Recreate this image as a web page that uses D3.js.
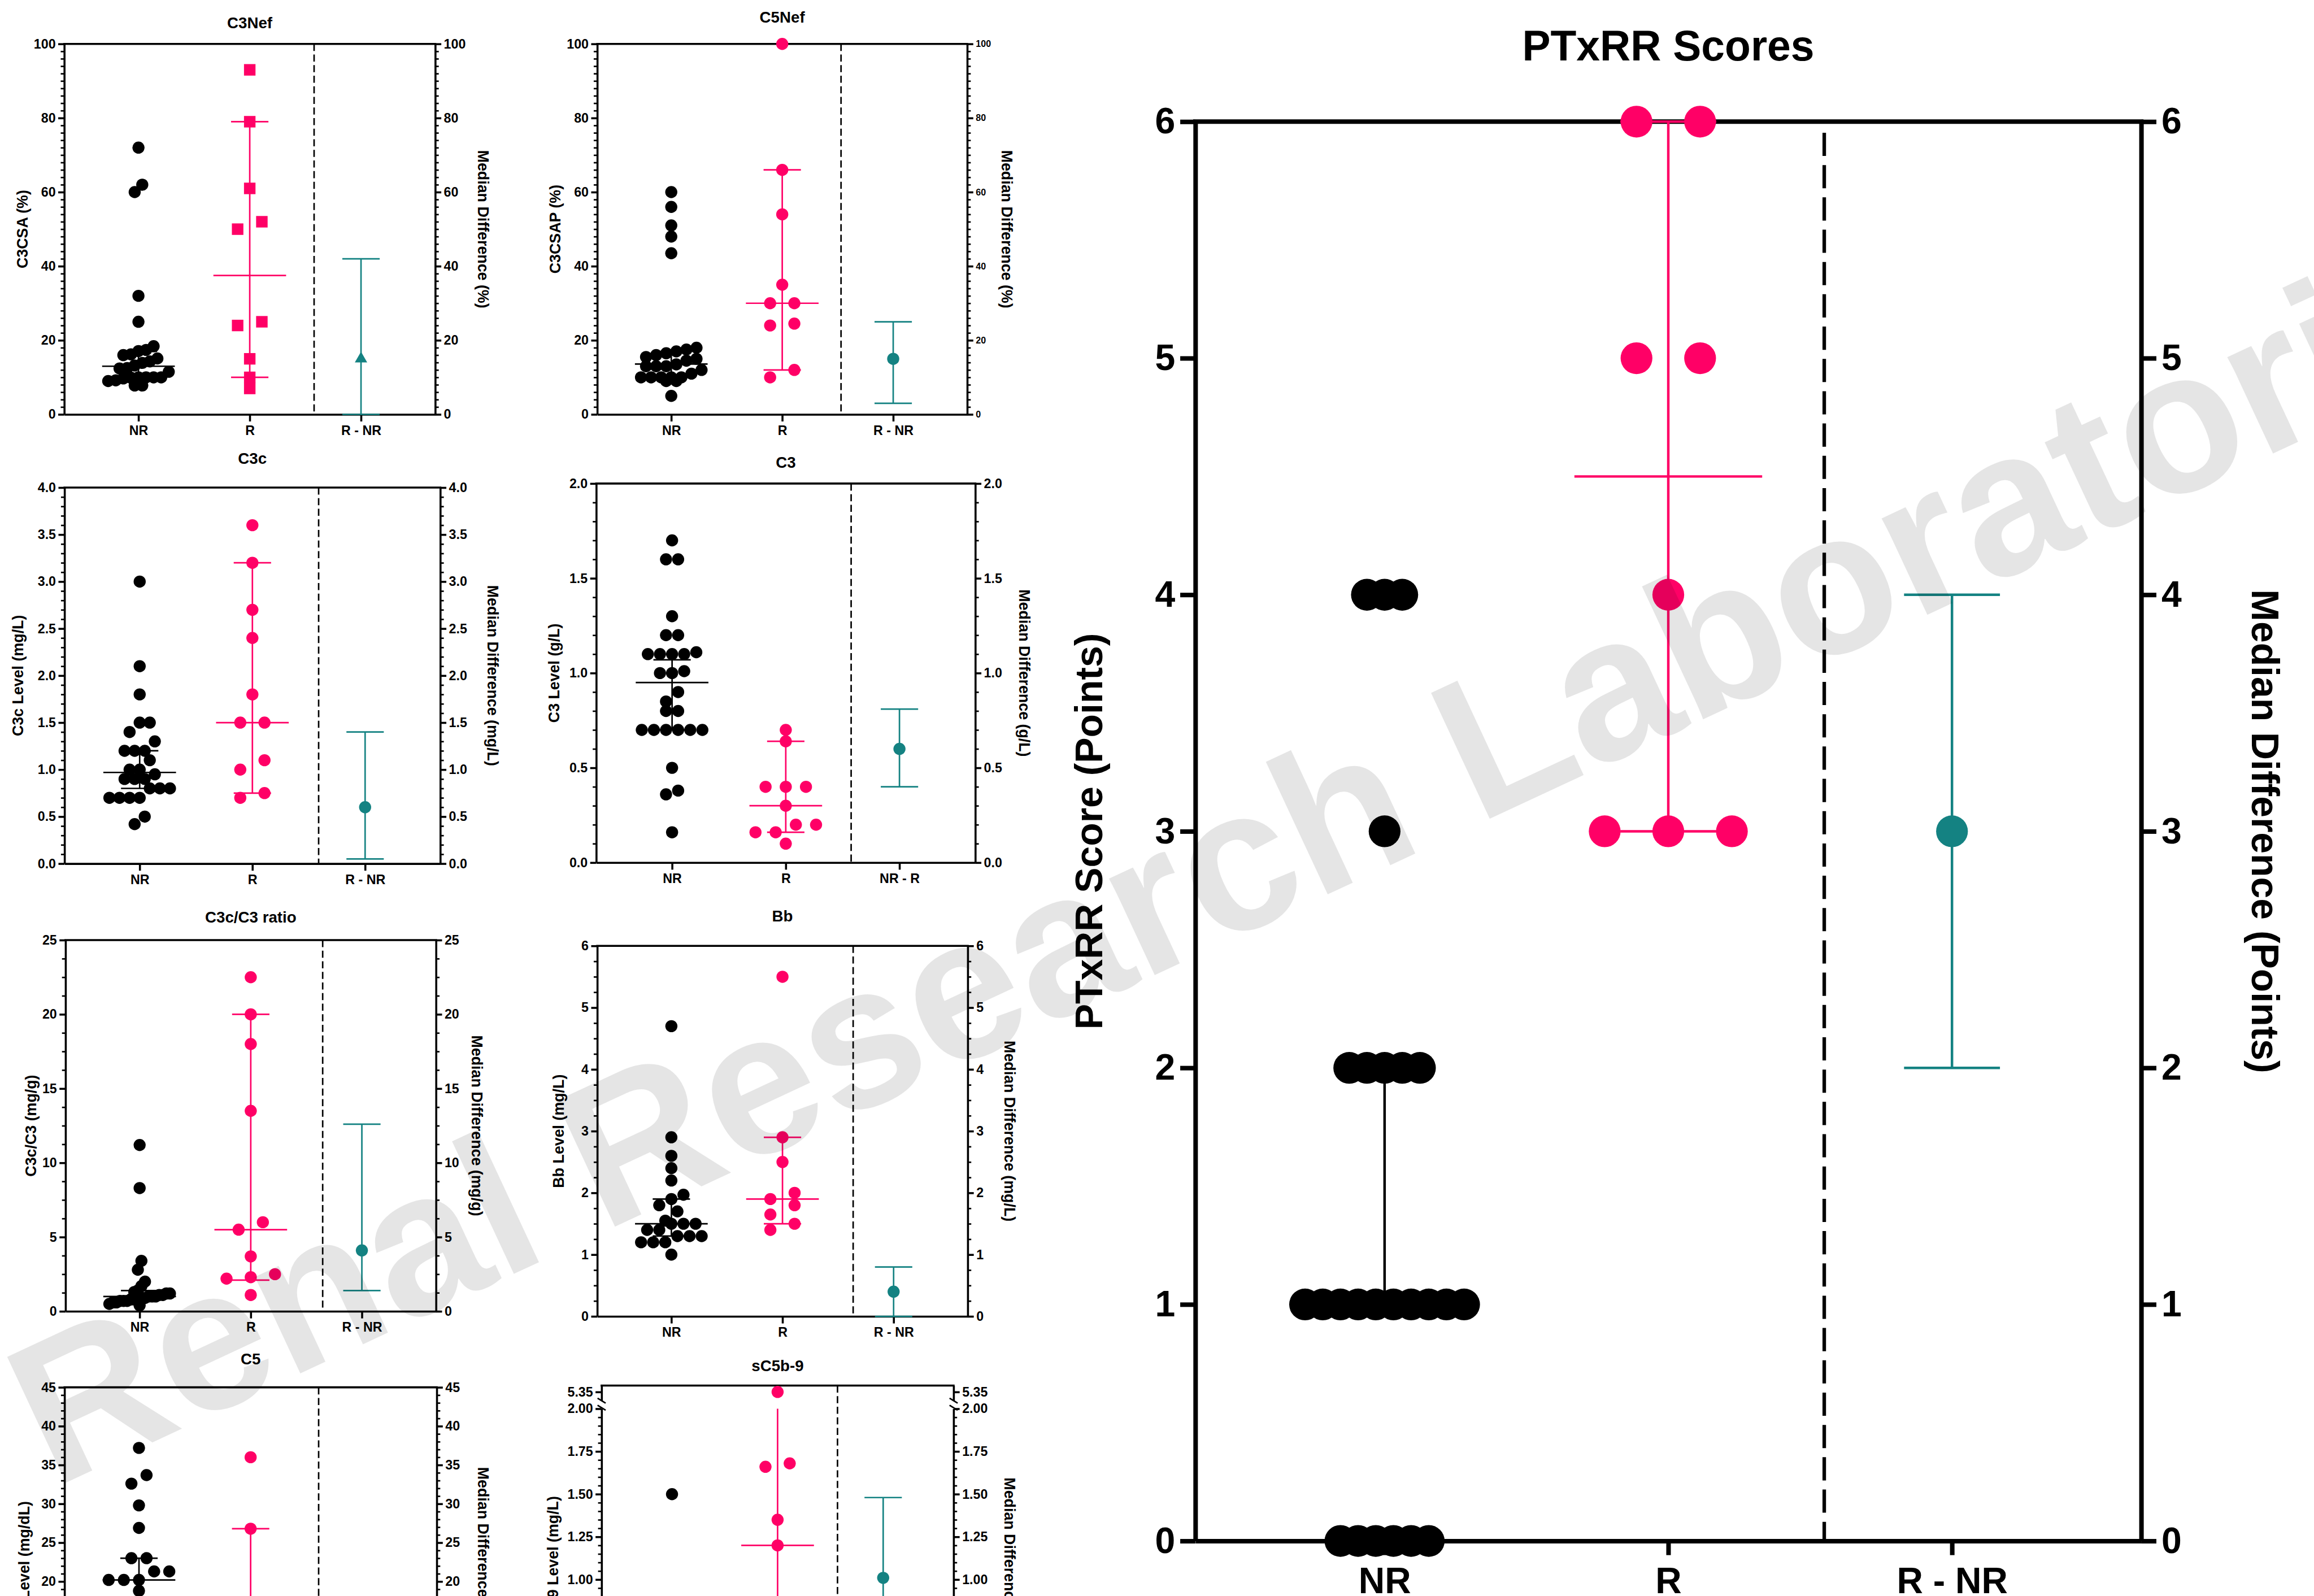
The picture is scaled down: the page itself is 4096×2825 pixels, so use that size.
<!DOCTYPE html>
<html><head><meta charset="utf-8">
<script src="https://cdn.jsdelivr.net/npm/d3@7"></script>
<style>html,body{margin:0;padding:0;background:#fff;overflow:hidden}svg{display:block}</style>
</head><body>
<svg id="chart"></svg>
<script>
// ---------------- DATA ----------------
const CATS_A = ["NR", "R", "R - NR"];
const CATS_B = ["NR", "R", "NR - R"];

// C3Nef
const c3nefNR = [72, 62, 60, 32, 25, 18.4, 17.4, 17.1, 16.2, 16.0, 15.1, 14.3, 13.9, 13.2, 12.5, 12.4, 11.5, 10, 10, 10, 10, 9.9, 9.7, 9.2, 9.0, 7.8, 7.8];
const c3nefR = [93, 79, 61, 52, 50, 25, 24, 15, 10, 7];
const c3nefNRStat = [13, 10, 17];      // median, lower, upper
const c3nefRStat = [37.5, 10, 79];
const c3nefDiff = [15, 0, 42];         // estimate, lower, upper
const c3nefTicks = [0, 20, 40, 60, 80, 100];

// C5Nef
const c5nefNR = [60, 56, 51, 48, 43.5, 18, 17.5, 17, 16.5, 16, 15.5, 15, 14.5, 13.5, 13, 13, 13, 12, 11, 10, 10, 10, 10, 10, 9, 9, 5];
const c5nefR = [100, 66, 54, 35, 30, 30, 24.5, 24, 12, 10];
const c5nefNRStat = [13.6, 10, 17];
const c5nefRStat = [30, 12, 66];
const c5nefDiff = [15, 3, 25];
const c5nefTicks = [0, 20, 40, 60, 80, 100];

// C3c
const c3cNR = [3.0, 2.1, 1.8, 1.5, 1.5, 1.4, 1.3, 1.2, 1.2, 1.2, 1.1, 1.0, 1.0, 0.95, 0.9, 0.9, 0.9, 0.8, 0.8, 0.8, 0.7, 0.7, 0.7, 0.7, 0.5, 0.42];
const c3cR = [3.6, 3.2, 2.7, 2.4, 1.8, 1.5, 1.5, 1.1, 1.0, 0.75, 0.7];
const c3cNRStat = [0.97, 0.8, 1.2];
const c3cRStat = [1.5, 0.75, 3.2];
const c3cDiff = [0.6, 0.05, 1.4];
const c3cTicks = [0, 0.5, 1.0, 1.5, 2.0, 2.5, 3.0, 3.5, 4.0];

// C3
const c3NR = [1.7, 1.6, 1.6, 1.3, 1.2, 1.2, 1.1, 1.1, 1.1, 1.1, 1.11, 1.01, 1.0, 1.0, 0.9, 0.85, 0.8, 0.8, 0.7, 0.7, 0.7, 0.7, 0.7, 0.7, 0.5, 0.38, 0.36, 0.16];
const c3R = [0.7, 0.64, 0.4, 0.4, 0.4, 0.3, 0.2, 0.2, 0.16, 0.16, 0.1];
const c3NRStat = [0.95, 0.7, 1.07];
const c3RStat = [0.3, 0.16, 0.64];
const c3Diff = [0.6, 0.4, 0.81];
const c3Ticks = [0, 0.5, 1.0, 1.5, 2.0];

// C3c/C3 ratio
const ratioNR = [11.2, 8.3, 3.4, 2.8, 2.0, 1.7, 1.4, 1.3, 1.2, 1.2, 1.1, 1.1, 1.0, 1.0, 1.0, 0.9, 0.9, 0.8, 0.8, 0.8, 0.7, 0.7, 0.7, 0.6, 0.6, 0.5, 0.4];
const ratioR = [22.5, 20, 18, 13.5, 6.0, 5.5, 3.7, 2.5, 2.3, 2.2, 1.1];
const ratioNRStat = [1.0, 0.7, 1.4];
const ratioRStat = [5.5, 2.1, 20];
const ratioDiff = [4.1, 1.4, 12.6];
const ratioTicks = [0, 5, 10, 15, 20, 25];

// Bb
const bbNR = [4.7, 2.9, 2.6, 2.4, 2.2, 1.97, 1.9, 1.8, 1.7, 1.55, 1.5, 1.5, 1.5, 1.4, 1.4, 1.3, 1.3, 1.3, 1.2, 1.2, 1.2, 1.0];
const bbR = [5.5, 2.9, 2.5, 2.0, 1.9, 1.8, 1.65, 1.5, 1.4];
const bbNRStat = [1.5, 1.3, 1.9];
const bbRStat = [1.9, 1.5, 2.9];
const bbDiff = [0.4, 0, 0.8];
const bbTicks = [0, 1, 2, 3, 4, 5, 6];

// C5 (lower part cut off in the reference)
const c5NR = [37.2, 33.7, 32.6, 29.8, 26.9, 23, 23, 21.3, 21.3, 20.2, 20.2, 20.2, 18.8];
const c5R = [36.0, 26.8];
const c5NRStat = [20.2, 15, 23];
const c5RStat = [14, 10, 26.8];
const c5Ticks = [0, 5, 10, 15, 20, 25, 30, 35, 40, 45];

// sC5b-9 (broken axis, lower part cut off)
const sc5NR = [1.50];
const sc5R = [5.35, 1.68, 1.66, 1.35, 1.20];
const sc5RStat = [1.20, 0.7, 5.35];
const sc5Diff = [1.01, 0.6, 1.48];
const sc5TicksLow = [0, 0.25, 0.50, 0.75, 1.00, 1.25, 1.50, 1.75, 2.00];
const sc5TicksHigh = [5.35];

// PTxRR Scores
const ptNR = [4, 4, 4, 3, 2, 2, 2, 2, 2, 1, 1, 1, 1, 1, 1, 1, 1, 1, 1, 0, 0, 0, 0, 0, 0];
const ptR = [6, 6, 5, 5, 4, 3, 3, 3];
const ptNRStat = [1, 1, 2];
const ptRStat = [4.5, 3, 6];
const ptDiff = [3, 2, 4];
const ptTicks = [0, 1, 2, 3, 4, 5, 6];

// ---------------- STYLE ----------------
const PINK = "#ff0066", TEAL = "#148282", BLACK = "#000000";
const FONT = "'Liberation Sans', Arial, Helvetica, sans-serif";
const CANVAS_H = 3162;
const SMALL = {axisW:4, tickMaj:12, tickMin:7, minorW:3, tickPad:5, fTick:26, fCat:26, fLab:30, fTitle:31, ptR:12, lineW:3, medHalf:72, capHalf:37, dashW:3, dash:"14 7", catTick:14, catPad:8, dashTop:0};
const BIG = {axisW:9, tickMaj:30, tickMin:0, minorW:0, tickPad:10, fTick:72, fCat:72, fLab:76, fTitle:84, ptR:31.5, lineW:5, medHalf:186, capHalf:95, dashW:7, dash:"46 18", catTick:28, catPad:24, dashTop:22};

const svg = d3.select("#chart").attr("width", 4096).attr("height", 2825)
  .attr("viewBox", "0 0 4584 3162").attr("font-family", FONT).attr("font-weight", "bold");
svg.append("rect").attr("width", 4584).attr("height", 3162).attr("fill", "#fff");

const f0 = d3.format("d"), f1 = d3.format(".1f"), f2 = d3.format(".2f");

const panels = [
  {title:"C3Nef", yLab:"C3CSA (%)", rLab:"Median Difference (%)", cats:CATS_A, L:127, R:862, T:87, B:821, dash:622, titleY:56, yLabX:45, rLabX:957,
   domain:[0,100], ticks:c3nefTicks, minor:2, fmt:f0, nr:c3nefNR, r:c3nefR, nrStat:c3nefNRStat, rStat:c3nefRStat, diff:c3nefDiff, rShape:"square", diffShape:"triangle"},
  {title:"C5Nef", yLab:"C3CSAP (%)", rLab:"Median Difference (%)", cats:CATS_A, L:1183, R:1916, T:87, B:821, dash:1666, titleY:45, yLabX:1100, rLabX:1994,
   domain:[0,100], ticks:c5nefTicks, minor:2, fmt:f0, rTickFont:18, nr:c5nefNR, r:c5nefR, nrStat:c5nefNRStat, rStat:c5nefRStat, diff:c5nefDiff},
  {title:"C3c", yLab:"C3c Level (mg/L)", rLab:"Median Difference (mg/L)", cats:CATS_A, L:127.5, R:872, T:966, B:1711, dash:631, titleY:919, yLabX:35, rLabX:976,
   domain:[0,4], ticks:c3cTicks, minor:0.1, fmt:f1, nr:c3cNR, r:c3cR, nrStat:c3cNRStat, rStat:c3cRStat, diff:c3cDiff},
  {title:"C3", yLab:"C3 Level (g/L)", rLab:"Median Difference (g/L)", cats:CATS_B, L:1181, R:1932, T:958, B:1709, dash:1686, titleY:927, yLabX:1098, rLabX:2029,
   domain:[0,2], ticks:c3Ticks, minor:0.1, fmt:f1, nr:c3NR, r:c3R, nrStat:c3NRStat, rStat:c3RStat, diff:c3Diff},
  {title:"C3c/C3 ratio", yLab:"C3c/C3 (mg/g)", rLab:"Median Difference (mg/g)", cats:CATS_A, L:129.5, R:863.5, T:1862.5, B:2598, dash:639, titleY:1828, yLabX:61, rLabX:944,
   domain:[0,25], ticks:ratioTicks, minor:1.25, fmt:f0, nr:ratioNR, r:ratioR, nrStat:ratioNRStat, rStat:ratioRStat, diff:ratioDiff},
  {title:"Bb", yLab:"Bb Level (mg/L)", rLab:"Median Difference (mg/L)", cats:CATS_A, L:1183, R:1917, T:1874, B:2608, dash:1690, titleY:1826, yLabX:1107, rLabX:2000,
   domain:[0,6], ticks:bbTicks, minor:0.25, fmt:f0, nr:bbNR, r:bbR, nrStat:bbNRStat, rStat:bbRStat, diff:bbDiff},
  {title:"C5", yLab:"C5 Level (mg/dL)", rLab:"Median Difference (mg/dL)", cats:CATS_A, L:127.5, R:865, T:2748.6, B:3441, dash:631, titleY:2703, yLabX:48, rLabX:957,
   domain:[0,45], ticks:c5Ticks, minor:1, fmt:f0, nr:c5NR, r:c5R, nrStat:c5NRStat, rStat:c5RStat, diff:null},
  {title:"sC5b-9", yLab:"sC5b-9 Level (mg/L)", rLab:"Median Difference (mg/L)", cats:CATS_A, L:1191.6, R:1889, T:2745, B:3468, dash:1659, titleY:2716, yLabX:1095, rLabX:2000,
   segments:[{domain:[0,2], range:[3467.8,2791], ticks:sc5TicksLow, minor:0.05}, {domain:[5.30,5.38], range:[2779,2745], ticks:sc5TicksHigh, minor:0}],
   breakY:[2777, 2791], clipHi:2.0, fmt:f2, nr:sc5NR, r:sc5R, nrStat:null, rStat:sc5RStat, diff:sc5Diff}
];
const bigPanel = {title:"PTxRR Scores", yLab:"PTxRR Score (Points)", rLab:"Median Difference (Points)", cats:CATS_A, L:2368, R:4242, T:241, B:3053, dash:3614, titleY:120, yLabX:2157, rLabX:4488,
   domain:[0,6], ticks:ptTicks, minor:0, fmt:f0, nr:ptNR, r:ptR, nrStat:ptNRStat, rStat:ptRStat, diff:ptDiff};

// ---------------- HELPERS ----------------
function styleAxis(a, sw, fs) {
  a.attr("font-family", FONT).attr("font-size", fs).attr("font-weight", "bold");
  a.select(".domain").attr("stroke", BLACK).attr("stroke-width", sw);
  a.selectAll(".tick line").attr("stroke", BLACK).attr("stroke-width", sw);
  a.selectAll(".tick text").attr("fill", BLACK);
}

// Prism-like scatter layout: close values share a row, rows are centred
function swarm(vals, y, D) {
  const pts = vals.map((v, i) => ({v, i, py: y(v)})).sort((a, b) => (a.py - b.py) || (a.i - b.i));
  const rows = []; let cur = null;
  pts.forEach(p => {
    if (cur && p.py - cur.y0 < 0.9 * D) cur.items.push(p);
    else { cur = {y0: p.py, items: [p]}; rows.push(cur); }
  });
  const maxN = d3.max(rows, r => r.items.length);
  const sp = maxN > 1 ? Math.min(2 * D, 5 * D / (maxN - 1)) : 0;
  rows.forEach(r => {
    const n = r.items.length;
    r.items.slice().sort((a, b) => (b.py - a.py) || (a.i - b.i))
      .forEach((p, k) => p.dx = (k - (n - 1) / 2) * sp);
  });
  return pts;
}

function drawPanel(p, st) {
  const g = svg.append("g");
  const x = d3.scalePoint().domain(p.cats).range([p.L, p.R]).padding(0.667);
  const segs = (p.segments || [{domain: p.domain, range: [p.B, p.T], ticks: p.ticks, minor: p.minor}])
    .map(s => Object.assign({}, s, {sc: d3.scaleLinear().domain(s.domain).range(s.range)}));
  const y = v => {
    for (const s of segs) if (v >= s.domain[0] - 1e-9 && v <= s.domain[1] + 1e-9) return s.sc(v);
    return segs[0].sc(v);
  };

  // y axes (left and right)
  segs.forEach(s => {
    const minorVals = s.minor ? d3.range(s.domain[0], s.domain[1] + 1e-9, s.minor)
      .filter(v => !s.ticks.some(t => Math.abs(t - v) < 1e-6)) : [];
    [["left", p.L], ["right", p.R]].forEach(([side, xp]) => {
      const mk = side === "left" ? d3.axisLeft : d3.axisRight;
      if (minorVals.length) {
        const a = g.append("g").attr("transform", `translate(${xp},0)`)
          .call(mk(s.sc).tickValues(minorVals).tickSize(st.tickMin).tickSizeOuter(0).tickFormat(""));
        a.select(".domain").remove();
        a.selectAll(".tick line").attr("stroke", BLACK).attr("stroke-width", st.minorW);
      }
      const fs = (side === "right" && p.rTickFont) ? p.rTickFont : st.fTick;
      const a2 = g.append("g").attr("transform", `translate(${xp},0)`)
        .call(mk(s.sc).tickValues(s.ticks).tickSize(st.tickMaj).tickSizeOuter(0).tickPadding(st.tickPad).tickFormat(p.fmt));
      styleAxis(a2, st.axisW, fs);
      // drop labels that fall completely outside the picture
      a2.selectAll(".tick").filter(t => s.sc(t) > CANVAS_H + 10).select("text").remove();
    });
  });

  // axis break marks
  if (p.breakY) {
    [p.L, p.R].forEach(xp => {
      g.append("rect").attr("x", xp - 3).attr("y", p.breakY[0] - 1).attr("width", 6).attr("height", p.breakY[1] - p.breakY[0] - 6).attr("fill", "#fff");
      p.breakY.forEach(by => {
        g.append("line").attr("x1", xp - 8).attr("y1", by - 7).attr("x2", xp + 8).attr("y2", by + 3)
          .attr("stroke", BLACK).attr("stroke-width", 3);
      });
    });
  }

  // top frame
  g.append("line").attr("x1", p.L).attr("x2", p.R).attr("y1", p.T).attr("y2", p.T)
    .attr("stroke", BLACK).attr("stroke-width", st.axisW).attr("stroke-linecap", "square");

  // bottom category axis
  const ax = g.append("g").attr("transform", `translate(0,${p.B})`)
    .call(d3.axisBottom(x).tickSize(st.catTick).tickSizeOuter(0).tickPadding(st.catPad));
  styleAxis(ax, st.axisW, st.fCat);
  if (p.B > CANVAS_H) ax.selectAll(".tick text").remove();

  // dashed separator
  g.append("line").attr("x1", p.dash).attr("x2", p.dash).attr("y1", p.T + st.dashTop).attr("y2", p.B)
    .attr("stroke", BLACK).attr("stroke-width", st.dashW).attr("stroke-dasharray", st.dash);

  // title and axis labels
  g.append("text").attr("x", (p.L + p.R) / 2).attr("y", p.titleY).attr("text-anchor", "middle")
    .attr("font-size", st.fTitle).attr("fill", BLACK).text(p.title);
  const cy = (p.T + p.B) / 2;
  g.append("text").attr("transform", `translate(${p.yLabX},${cy}) rotate(-90)`).attr("text-anchor", "middle")
    .attr("dominant-baseline", "central").attr("font-size", st.fLab).attr("fill", BLACK).text(p.yLab);
  g.append("text").attr("transform", `translate(${p.rLabX},${cy}) rotate(90)`).attr("text-anchor", "middle")
    .attr("dominant-baseline", "central").attr("font-size", st.fLab).attr("fill", BLACK).text(p.rLab);

  // error bars / medians
  const lineG = g.append("g").attr("stroke-width", st.lineW).attr("fill", "none");
  function bar(cx, s3, color, withMedian) {
    const [m, lo, hi] = s3;
    const clipped = p.clipHi !== undefined && hi > p.clipHi;
    const yHi = clipped ? y(p.clipHi) : y(hi);
    lineG.append("line").attr("x1", cx).attr("x2", cx).attr("y1", y(lo)).attr("y2", yHi).attr("stroke", color);
    lineG.append("line").attr("x1", cx - st.capHalf).attr("x2", cx + st.capHalf).attr("y1", y(lo)).attr("y2", y(lo)).attr("stroke", color);
    if (!clipped) lineG.append("line").attr("x1", cx - st.capHalf).attr("x2", cx + st.capHalf).attr("y1", y(hi)).attr("y2", y(hi)).attr("stroke", color);
    if (withMedian) lineG.append("line").attr("x1", cx - st.medHalf).attr("x2", cx + st.medHalf).attr("y1", y(m)).attr("y2", y(m)).attr("stroke", color);
  }
  if (p.nrStat) bar(x(p.cats[0]), p.nrStat, BLACK, true);
  if (p.rStat) bar(x(p.cats[1]), p.rStat, PINK, true);
  if (p.diff) bar(x(p.cats[2]), p.diff, TEAL, false);

  // points
  const D = st.ptR * 2;
  function dots(vals, cat, color, shape) {
    const cx = x(cat);
    swarm(vals, y, D).forEach(pt => {
      if (shape === "square") {
        g.append("path").attr("transform", `translate(${cx + pt.dx},${pt.py})`)
          .attr("d", d3.symbol(d3.symbolSquare, Math.pow(st.ptR * 1.9, 2))()).attr("fill", color);
      } else {
        g.append("circle").attr("cx", cx + pt.dx).attr("cy", pt.py).attr("r", st.ptR).attr("fill", color);
      }
    });
  }
  dots(p.nr, p.cats[0], BLACK, "circle");
  dots(p.r, p.cats[1], PINK, p.rShape || "circle");
  if (p.diff) {
    const cx = x(p.cats[2]);
    if (p.diffShape === "triangle") {
      g.append("path").attr("transform", `translate(${cx},${y(p.diff[0])})`)
        .attr("d", d3.symbol(d3.symbolTriangle, 260)()).attr("fill", TEAL);
    } else {
      g.append("circle").attr("cx", cx).attr("cy", y(p.diff[0])).attr("r", st.ptR).attr("fill", TEAL);
    }
  }
}

panels.forEach(p => drawPanel(p, SMALL));
drawPanel(bigPanel, BIG);

// watermark (semi-transparent, drawn on top)
svg.append("text").attr("transform", "translate(106,2949) rotate(-25)")
  .attr("font-size", 400).attr("font-weight", "bold")
  .attr("fill", BLACK).attr("fill-opacity", 0.1)
  .text("Renal Research Laboratories");
</script>
</body></html>
